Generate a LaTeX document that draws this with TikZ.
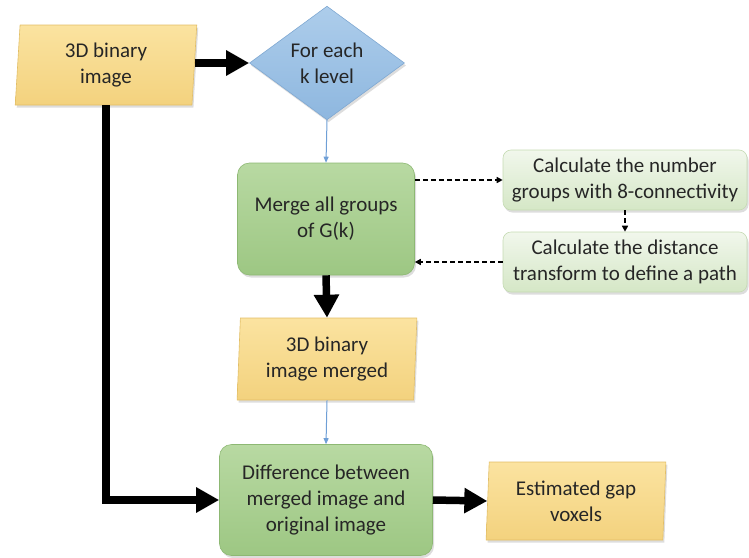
\documentclass[tikz,border=0pt]{standalone}
\usepackage{fontspec}
\setmainfont{Carlito}
\usetikzlibrary{shapes.geometric,arrows.meta,shadows}
\definecolor{yelF}{HTML}{FBE3A0}
\definecolor{yelB}{HTML}{F3D27E}
\definecolor{yelD}{HTML}{E2BE66}
\definecolor{bluF}{HTML}{ADCDEB}
\definecolor{bluB}{HTML}{8EB7DF}
\definecolor{bluD}{HTML}{7FA8D2}
\definecolor{grnF}{HTML}{B8D9A2}
\definecolor{grnB}{HTML}{9DC783}
\definecolor{grnD}{HTML}{8DB873}
\definecolor{palF}{HTML}{F1F7EC}
\definecolor{palB}{HTML}{D5E7C6}
\definecolor{palD}{HTML}{C5DBB3}
\definecolor{lnk}{HTML}{6F9FD6}
\definecolor{txtc}{HTML}{262626}
\begin{document}
\begin{tikzpicture}[x=1pt,y=-1pt,
  txt/.style={font=\fontsize{21}{26}\selectfont, text=txtc, align=center, inner sep=0pt},
  sh/.style={drop shadow={shadow xshift=1.5pt, shadow yshift=-2.5pt, opacity=0.22, fill=black!60}},
  para/.style={txt, sh, trapezium, trapezium left angle=87, trapezium right angle=93,
    trapezium stretches=true, draw=yelD, line width=0.6pt, top color=yelF, bottom color=yelB},
  diam/.style={txt, sh, diamond, draw=bluD, line width=0.6pt, top color=bluF, bottom color=bluB},
  gbox/.style={txt, sh, rectangle, rounded corners=12pt, draw=grnD, line width=0.6pt, top color=grnF, bottom color=grnB},
  pbox/.style={txt, sh, rectangle, rounded corners=8pt, draw=palD, line width=0.6pt, top color=palF, bottom color=palB},
  bigarrow/.style={line width=7.5pt, -{Triangle[length=23pt,width=24pt]}},
  thinarrow/.style={draw=lnk, line width=1pt, -{Triangle[length=6pt,width=5pt]}},
  dasharrow/.style={line width=1.8pt, dash pattern=on 5pt off 3pt, -{Triangle[length=6pt,width=6pt]}}
]
\useasboundingbox (0,0) rectangle (749,557);

\node[para, minimum width=182pt, minimum height=80pt] (img) at (106,65) {3D binary\\image};
\node[diam, minimum width=155pt, minimum height=107pt] (lvl) at (327,63) {For each\\k level};
\node[gbox, minimum width=177pt, minimum height=112pt] (merge) at (326,219) {Merge all groups\\of G(k)};
\node[pbox, minimum width=244pt, minimum height=60pt] (cnt) at (625,180) {Calculate the number\\groups with 8-connectivity};
\node[pbox, minimum width=244pt, minimum height=60pt] (dist) at (625,262) {Calculate the distance\\transform to define a path};
\node[para, minimum width=180pt, minimum height=82pt] (mrg) at (327,359) {3D binary\\image merged};
\node[gbox, minimum width=213pt, minimum height=111pt] (diff) at (326,500) {Difference between\\merged image and\\original image};
\node[para, minimum width=180pt, minimum height=78pt] (est) at (576,501) {Estimated gap\\voxels};

\draw[bigarrow] (img.east |- lvl.west) -- (lvl.west);
\draw[thinarrow] (lvl.south) -- (merge.north);
\draw[dasharrow] (merge.east |- cnt.west) -- (cnt.west);
\draw[dasharrow] (cnt.south) -- (dist.north);
\draw[dasharrow] (dist.west) -- (merge.east |- dist.west);
\draw[bigarrow] (merge.south) -- (mrg.north);
\draw[thinarrow] (mrg.south) -- (diff.north);
\draw[bigarrow] (img.south) |- (diff.west);
\draw[bigarrow] (diff.east) -- (est.west);
\end{tikzpicture}
\end{document}
